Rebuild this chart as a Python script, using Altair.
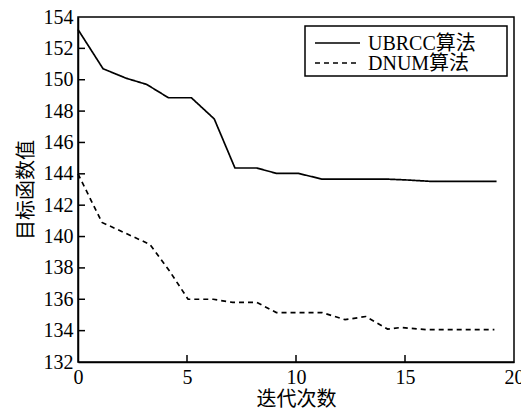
import altair as alt
import pandas as pd

# ---- data ----
series_names = ["UBRCC算法", "DNUM算法"]

x_ubrcc = [0, 1.15, 2.2, 3.15, 4.15, 5.2, 6.25, 7.2, 8.2, 9.1,
           10.1, 11.2, 12.2, 13.2, 14.2, 15.2, 16.15, 17.2, 18.2, 19.2]
y_ubrcc = [153.2, 150.7, 150.1, 149.7, 148.85, 148.85, 147.5, 144.37, 144.37, 144.03,
           144.03, 143.66, 143.66, 143.66, 143.66, 143.6, 143.52, 143.52, 143.52, 143.52]

x_dnum = [0, 1.1, 2.2, 3.3, 4.2, 5.05, 6.2, 7.1, 8.2, 9.1,
          10.1, 11.2, 12.25, 13.2, 14.2, 14.8, 16.0, 17.2, 18.2, 19.1]
y_dnum = [144.0, 140.9, 140.2, 139.5, 137.8, 136.0, 136.0, 135.8, 135.8, 135.15,
          135.15, 135.15, 134.7, 134.9, 134.1, 134.2, 134.06, 134.06, 134.06, 134.06]

x_axis_values = [0, 5, 10, 15, 20]
y_axis_values = [132, 134, 136, 138, 140, 142, 144, 146, 148, 150, 152, 154]
x_inner_ticks = [5, 10, 15]
y_inner_ticks = [134, 136, 138, 140, 142, 144, 146, 148, 150, 152]

x_title = "迭代次数"
y_title = "目标函数值"

# ---- tables ----
df = pd.concat([
    pd.DataFrame({"x": x_ubrcc, "y": y_ubrcc, "series": series_names[0]}),
    pd.DataFrame({"x": x_dnum, "y": y_dnum, "series": series_names[1]}),
], ignore_index=True)
xt_df = pd.DataFrame({"x": x_inner_ticks})
yt_df = pd.DataFrame({"y": y_inner_ticks})

W, H = 436, 345
LW = 1.7
xscale = alt.Scale(domain=[0, 20], nice=False, zero=False)
yscale = alt.Scale(domain=[132, 154], nice=False, zero=False)
dash_scale = alt.Scale(domain=series_names, range=[[1, 0], [5, 4]])

serif = "Liberation Serif"
cjk = "Liberation Serif, Noto Sans CJK SC"

x_axis = alt.Axis(values=x_axis_values, title=x_title, format="d", labelFlush=False)
y_axis = alt.Axis(values=y_axis_values, title=y_title, format="d", labelFlush=False)

lines = alt.Chart(df).mark_line(strokeWidth=LW, color="black").encode(
    x=alt.X("x:Q", scale=xscale, axis=x_axis),
    y=alt.Y("y:Q", scale=yscale, axis=y_axis),
    strokeDash=alt.StrokeDash("series:N", scale=dash_scale, legend=None),
)

ytick = alt.Chart(yt_df).mark_rule(color="black", strokeWidth=1.5).encode(
    y=alt.Y("y:Q", scale=yscale, axis=y_axis),
    x=alt.value(0), x2=alt.value(7),
)
xtick = alt.Chart(xt_df).mark_rule(color="black", strokeWidth=1.5).encode(
    x=alt.X("x:Q", scale=xscale, axis=x_axis),
    y=alt.value(H), y2=alt.value(H - 7),
)

# ---- legend (drawn as a box with one row per series) ----
legend_df = pd.DataFrame({"series": series_names})
leg_box = alt.Chart(legend_df.head(1)).mark_rect(
    fill="white", stroke="black", strokeWidth=1.5
).encode(
    x=alt.value(227), x2=alt.value(429), y=alt.value(9), y2=alt.value(59)
)
legend_layers = [leg_box]
for i, name in enumerate(series_names):
    row = pd.DataFrame({"series": [name]})
    ypix = 26 + 20 * i
    legend_layers.append(
        alt.Chart(row).mark_rule(color="black", strokeWidth=LW).encode(
            strokeDash=alt.StrokeDash("series:N", scale=dash_scale, legend=None),
            x=alt.value(237), x2=alt.value(282), y=alt.value(ypix),
        )
    )
    legend_layers.append(
        alt.Chart(row).mark_text(
            align="left", baseline="middle", font=cjk, fontSize=20, color="black"
        ).encode(
            text="series:N", x=alt.value(290), y=alt.value(ypix + 1),
        )
    )

chart = alt.layer(lines, ytick, xtick, *legend_layers).properties(
    width=W, height=H,
    autosize=alt.AutoSizeParams(type="none"),
    padding={"left": 78, "top": 17, "right": 7, "bottom": 49},
).configure_view(
    stroke="black", strokeWidth=1.5
).configure_axis(
    grid=False, ticks=False, domainColor="black", domainWidth=1.5,
    labelFont=serif, labelFontSize=20, labelColor="black", labelPadding=5,
    titleFont=cjk, titleFontSize=20, titleColor="black", titleFontWeight="normal",
).configure_axisY(
    titlePadding=7
).configure_axisX(
    titlePadding=2
)

chart.save("out.html", embed_options={"renderer": "svg", "actions": False})
